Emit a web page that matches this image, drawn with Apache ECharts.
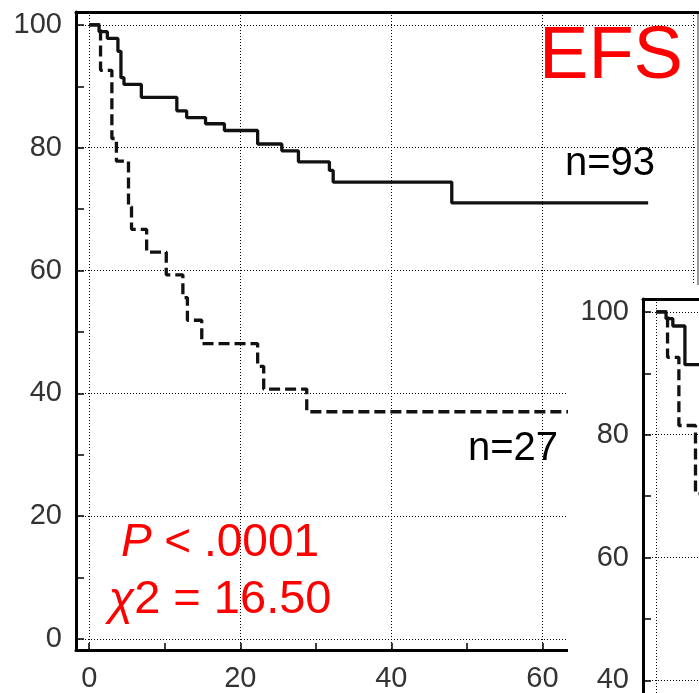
<!DOCTYPE html>
<html><head><meta charset="utf-8">
<script src="https://cdn.jsdelivr.net/npm/echarts@6/dist/echarts.min.js"></script>
<style>html,body{margin:0;padding:0;background:#fff}#c{width:699px;height:693px}</style>
</head><body><div id="c"></div>
<script>
// ---- Main chart (EFS) step curves ----
const efsHighTime = [0, 1.3, 2.4, 3.8, 4.2, 4.6, 6.9, 11.6, 12.9, 15.4, 17.9, 22.3, 25.5, 27.7, 31.8, 32.3, 48.0, 74.0];
const efsHighSurv = [100, 98.9, 97.8, 95.7, 91.4, 90.3, 88.2, 86.0, 84.9, 83.9, 82.8, 80.6, 79.5, 77.7, 76.3, 74.4, 71.0, 71.0];
const efsLowTime = [0, 1.5, 3.0, 3.6, 5.2, 5.6, 7.6, 10.2, 12.4, 13.0, 14.9, 22.3, 23.1, 28.8, 70.0];
const efsLowSurv = [100, 92.6, 81.5, 77.8, 70.4, 66.7, 63.0, 59.3, 55.6, 51.9, 48.1, 44.4, 40.7, 37.0, 37.0];
// ---- Inset chart (partly visible) ----
const insetHighTime = [0, 1.3, 2.2, 3.8, 10];
const insetHighSurv = [100, 98.9, 97.7, 91.4, 91.4];
const insetLowTime = [0, 1.5, 3.0, 5.2, 10];
const insetLowSurv = [100, 92.6, 81.5, 70.4, 70.4];
// ---- Ticks / labels ----
const xTicks = [0, 10, 20, 30, 40, 50, 60, 70, 80];
const xLabels = [0, 20, 40, 60, 80];
const yTicks = [0, 10, 20, 30, 40, 50, 60, 70, 80, 90, 100];
const yLabels = [0, 20, 40, 60, 80, 100];
const texts = { title: 'EFS', nHigh: 'n=93', nLow: 'n=27', p: '{i|P} < .0001', chi: '{i|χ}2 = 16.50' };

const pairs = (xs, ys) => xs.map((x, i) => [x, ys[i]]);
const LF = 'Liberation Sans, Arial, sans-serif';
const labelFont = { fontFamily: LF, fontSize: 29, color: '#333' };
const dotted = { color: '#000', width: 1, type: [1, 2] };
const X_MIN = -1.75, X_MAX = 80.6, Y_MIN = -1.8, Y_MAX = 102.1;

function axesFor(g, zl, showXLabels) {
  const xs = [
    { gridIndex: g, type: 'value', position: 'bottom', min: X_MIN, max: X_MAX, zlevel: zl,
      axisLine: { show: true, onZero: false, lineStyle: { color: '#000', width: 3 } },
      axisTick: { show: true, inside: true, length: 7, customValues: xTicks, lineStyle: { color: '#000', width: 1.5 } },
      axisLabel: { show: showXLabels, customValues: xLabels, margin: 14, ...labelFont },
      splitLine: { show: false } },
    { gridIndex: g, type: 'value', position: 'top', min: X_MIN, max: X_MAX, zlevel: zl,
      axisLine: { show: true, onZero: false, lineStyle: { color: '#000', width: 3 } },
      axisTick: { show: false, customValues: xLabels },
      axisLabel: { show: false },
      splitLine: { show: true, lineStyle: dotted } }
  ];
  const ys = [
    { gridIndex: g, type: 'value', position: 'left', min: Y_MIN, max: Y_MAX, zlevel: zl,
      axisLine: { show: true, onZero: false, lineStyle: { color: '#000', width: 3 } },
      axisTick: { show: true, inside: true, length: 8, customValues: yTicks, lineStyle: { color: '#000', width: 1.5 } },
      axisLabel: { customValues: yLabels, margin: 14, ...labelFont },
      splitLine: { show: false } },
    { gridIndex: g, type: 'value', position: 'right', min: Y_MIN, max: Y_MAX, zlevel: zl,
      axisLine: { show: true, onZero: false, lineStyle: { color: '#999', width: 2 } },
      axisTick: { show: false, customValues: yLabels },
      axisLabel: { show: false },
      splitLine: { show: true, lineStyle: dotted } }
  ];
  return { xs, ys };
}
const a0 = axesFor(0, 0, true), a1 = axesFor(1, 2, false);

function km(data, xi, yi, dashed, zl) {
  return { type: 'line', step: 'end', data, xAxisIndex: xi, yAxisIndex: yi, zlevel: zl,
    showSymbol: false, symbol: 'none', animation: false, silent: true,
    lineStyle: { color: '#111', width: 3.3, type: dashed ? [11, 5] : 'solid', cap: 'butt' } };
}

const chart = echarts.init(document.getElementById('c'), null, { renderer: 'canvas' });
chart.setOption({
  animation: false,
  backgroundColor: '#fff',
  grid: [
    { left: 76, top: 12, width: 622, height: 638, outerBoundsMode: 'none', containLabel: false },
    { left: 643, top: 299, width: 622, height: 638, outerBoundsMode: 'none', containLabel: false }
  ],
  xAxis: [...a0.xs, ...a1.xs],
  yAxis: [...a0.ys, ...a1.ys],
  series: [
    km(pairs(efsHighTime, efsHighSurv), 0, 0, false, 0),
    km(pairs(efsLowTime, efsLowSurv), 0, 0, true, 0),
    km(pairs(insetHighTime, insetHighSurv), 2, 2, false, 2),
    km(pairs(insetLowTime, insetLowSurv), 2, 2, true, 2)
  ],
  graphic: [
    { type: 'rect', zlevel: 1, z: 0, shape: { x: 568, y: 285, width: 131, height: 408 }, style: { fill: '#fff' }, silent: true },
    { type: 'text', zlevel: 0, z: 100, x: 611, y: 57.5, style: { text: texts.title, fill: '#ff0000', font: '74px ' + LF, textAlign: 'center', textVerticalAlign: 'middle' } },
    { type: 'text', zlevel: 0, z: 100, x: 610, y: 163.5, style: { text: texts.nHigh, fill: '#000', font: '40px ' + LF, textAlign: 'center', textVerticalAlign: 'middle' } },
    { type: 'text', zlevel: 0, z: 100, x: 513, y: 449, style: { text: texts.nLow, fill: '#000', font: '40px ' + LF, textAlign: 'center', textVerticalAlign: 'middle' } },
    { type: 'text', zlevel: 0, z: 100, x: 220, y: 543.5, style: { text: texts.p, fill: '#ff0000', fontSize: 46, fontFamily: LF, textAlign: 'center', textVerticalAlign: 'middle', rich: { i: { fontStyle: 'italic', fontSize: 46, fontFamily: LF, fill: '#ff0000' } } } },
    { type: 'text', zlevel: 0, z: 100, x: 220, y: 600.5, style: { text: texts.chi, fill: '#ff0000', fontSize: 47, fontFamily: LF, textAlign: 'center', textVerticalAlign: 'middle', rich: { i: { fontStyle: 'italic', fontSize: 47, fontFamily: LF, fill: '#ff0000' } } } }
  ]
});
</script></body></html>
